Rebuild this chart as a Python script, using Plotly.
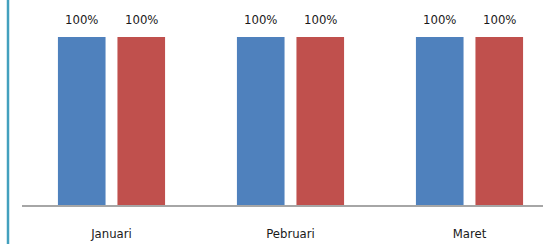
import plotly.graph_objects as go

categories = ["Januari", "Pebruari", "Maret"]
series_a = [100, 100, 100]
series_b = [100, 100, 100]
labels_a = ["100%", "100%", "100%"]
labels_b = ["100%", "100%", "100%"]

BLUE = "#4F81BD"
RED = "#C0504D"
FONT = "DejaVu Sans Condensed, Liberation Sans Narrow, Liberation Sans, Arial, sans-serif"

fig = go.Figure()
fig.add_trace(go.Bar(x=categories, y=series_a, marker=dict(color=BLUE, line=dict(width=0)),
                     name="A", showlegend=False, hoverinfo="skip"))
fig.add_trace(go.Bar(x=categories, y=series_b, marker=dict(color=RED, line=dict(width=0)),
                     name="B", showlegend=False, hoverinfo="skip"))

annotations = []
for i, c in enumerate(categories):
    for vals, labs, shift in ((series_a, labels_a, -29.75), (series_b, labels_b, 29.75)):
        annotations.append(dict(x=c, y=vals[i], text=labs[i], showarrow=False,
                                xref="x", yref="y", yanchor="bottom", yshift=8,
                                xshift=shift, font=dict(family=FONT, size=13, color="#1a1a1a")))

W, H = 543, 244
ml = 22
pw = W - ml
cat_w = 179.0

fig.update_layout(
    width=W, height=H,
    margin=dict(l=ml, r=0, t=0, b=39, pad=0, autoexpand=False),
    paper_bgcolor="white", plot_bgcolor="white",
    barmode="group", bargap=0.335, bargroupgap=0.2,
    annotations=annotations,
    xaxis=dict(range=[-0.5, -0.5 + pw / cat_w], showgrid=False, zeroline=False,
               showline=True, linecolor="#A6A6A6", linewidth=1.5, ticks="",
               automargin=False,
               tickfont=dict(family=FONT, size=13, color="#1a1a1a"),
               ticklabelstandoff=16),
    yaxis=dict(range=[0, 122], visible=False, showgrid=False, zeroline=False,
               automargin=False),
    shapes=[dict(type="line", xref="paper", yref="paper",
                 x0=-(ml - 8) / pw, x1=-(ml - 8) / pw, y0=-39 / 205, y1=1,
                 line=dict(color="#43A0BE", width=2.5))],
)

fig.write_html("out.html", config={"displayModeBar": False},
               post_script="document.body.style.margin='0';document.body.style.overflow='hidden';")
